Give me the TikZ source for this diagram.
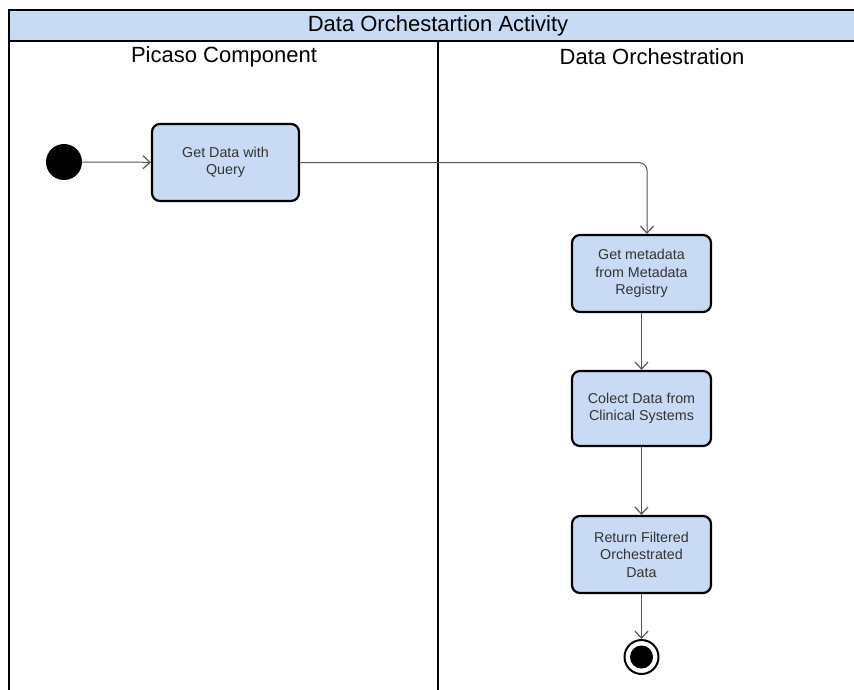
\documentclass[tikz,border=0pt]{standalone}
\usepackage{fontspec}
\setmainfont{Liberation Sans}
\usetikzlibrary{arrows.meta}
\definecolor{lanefill}{HTML}{C9DAF5}
\definecolor{txtgray}{HTML}{333333}
\definecolor{linegray}{HTML}{555555}
\tikzset{
  act/.style={draw=black, line width=2.2pt, fill=lanefill, rounded corners=8pt,
    align=center, text=txtgray, font=\fontsize{14.3}{17.5}\selectfont, inner sep=2pt},
  flow/.style={draw=linegray, line width=1pt, -{Straight Barb[length=7pt,width=13pt,line width=1.2pt]}},
  frame/.style={draw=black, line width=2pt},
  hdr/.style={font=\fontsize{22}{24}\selectfont, text=black, inner sep=0pt}
}
\begin{document}
\begin{tikzpicture}[x=1pt,y=-1pt]
\useasboundingbox (0,0) rectangle (854,689);
\begin{scope}
\clip (0,0) rectangle (854,689);
\draw[frame, fill=lanefill] (9,10) rectangle (880,41);
\draw[frame] (9,41) -- (9,700);
\draw[frame] (438,41) -- (438,700);
\end{scope}
\node[hdr] (title) at (438,25.5) {Data Orchestartion Activity};
\node[hdr] (lane1) at (224,57) {Picaso Component};
\node[hdr] (lane2) at (652,57) {Data Orchestration};

\node[circle, fill=black, minimum size=36pt, inner sep=0pt] (start) at (64,162) {};
\node[act, minimum width=147pt, minimum height=77pt] (b1) at (225.5,162.5) {Get Data with\\Query};
\node[act, minimum width=139pt, minimum height=77pt] (b2) at (641.5,273.5) {Get metadata\\from Metadata\\Registry};
\node[act, minimum width=139pt, minimum height=75pt] (b3) at (641.5,408.5) {Colect Data from\\Clinical Systems};
\node[act, minimum width=139pt, minimum height=77pt] (b4) at (641.5,554.5) {Return Filtered\\Orchestrated\\Data};
\node[circle, draw=black, line width=2pt, fill=white, minimum size=34pt, inner sep=0pt] (end) at (641.5,657) {};
\node[circle, fill=black, minimum size=23pt, inner sep=0pt] (endin) at (641.5,657) {};

\draw[flow] (start) -- (b1);
\draw[flow, rounded corners=8pt] (b1.east) -| ([xshift=5.5pt]b2.north);
\draw[flow] (b2) -- (b3);
\draw[flow] (b3) -- (b4);
\draw[flow] (b4) -- (end);
\end{tikzpicture}
\end{document}
